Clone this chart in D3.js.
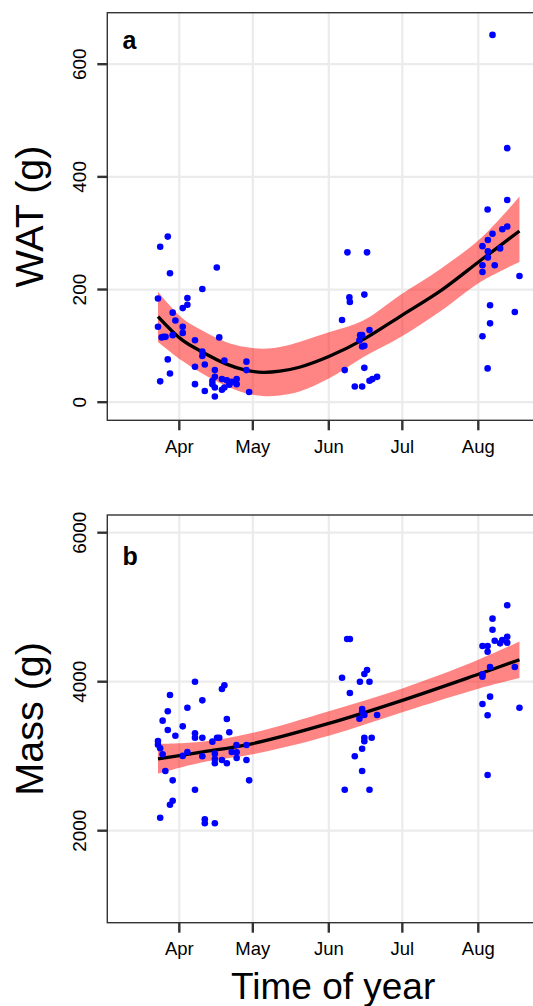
<!DOCTYPE html>
<html>
<head>
<meta charset="utf-8">
<title>WAT and mass by time of year</title>
<script src="https://cdn.jsdelivr.net/npm/d3@7/dist/d3.min.js"></script>
<style>
    body { margin: 0; background: #fff; }
    text { font-family: "Liberation Sans", Arial, Helvetica, sans-serif; fill: #000; }
</style>
</head>
<body>
<script>
// day of year (2019)
var watDay = [86.3, 83.2, 87.2, 106.3, 100.4, 82.3, 94.3, 94.3, 92.4, 88.3, 89.4, 82.3, 92.4, 92.4,
    84.5, 85.4, 83.8, 88.3, 107.3, 97.4, 100.4, 100.4, 109.4, 118.4, 86.3, 101.4, 97.4, 118.4,
    105.5, 87.2, 83.2, 105.5, 104.5, 108.4, 110.4, 112.4, 114.4, 114.4, 111.4, 109.4, 108.4,
    105.5, 104.5, 97.4, 101.4, 105.5, 119.5,
    159.6, 167.6, 160.4, 160.6, 166.5, 157.4, 168.6, 164.8, 165.6, 164.5, 165.6, 166.5, 158.5,
    166.5, 171.7, 169.8, 168.6, 162.6, 165.6,
    218.8, 224.8, 224.8, 216.8, 214.7, 216.9, 218.8, 222.8, 224.8, 216.9, 216.9, 221.9, 214.7,
    214.7, 219.7, 229.8, 217.8, 227.9, 217.8, 214.7, 216.8];
var watVal = [294, 276, 229, 239, 201, 184, 185, 173, 167, 159, 145, 134, 134, 123,
    116, 116, 115, 119, 115, 110, 90, 82, 74, 72, 76, 67, 63, 57,
    57, 51, 37, 45, 38, 41, 39, 36, 41, 32, 31, 26, 22,
    26, 32, 32, 20, 10, 18,
    266, 266, 186, 178, 191, 146, 128, 119, 119, 110, 99, 100, 57,
    61, 45, 41, 38, 28, 28,
    652, 451, 359, 342, 277, 288, 299, 307, 312, 268, 257, 273, 243,
    231, 243, 224, 172, 160, 140, 117, 60];

var massDay = [97.4, 109.4, 108.4, 87.2, 100.4, 94.3, 86.3, 84.2, 110.4, 92.4, 86.3, 89.4, 111.4,
    97.4, 97.4, 100.4, 106.4, 107.3, 104.5, 82.3, 82.3, 83.2, 84.2, 114.3, 118.4, 94.3, 92.4,
    100.4, 105.5, 105.5, 105.5, 112.4, 114.4, 114.4, 108.4, 110.4, 118.4, 85.3, 88.3, 119.5,
    97.4, 88.3, 87.2, 83.2, 101.4, 101.4, 105.5,
    159.5, 160.6, 167.6, 166.5, 157.4, 164.7, 168.6, 160.6, 165.6, 165.6, 166.5, 164.5, 171.7,
    166.5, 166.5, 169.5, 165.6, 162.6, 165.6, 158.5, 168.6,
    224.8, 218.8, 218.8, 219.7, 221.9, 222.8, 224.8, 224.8, 214.7, 216.8, 216.8, 217.8, 214.7,
    214.7, 227.9, 217.8, 214.7, 216.8, 229.8, 216.8];
var massVal = [4000, 3952, 3902, 3821, 3750, 3651, 3603, 3477, 3499, 3401, 3352, 3275, 3321,
    3307, 3248, 3248, 3248, 3248, 3195, 3204, 3154, 3106, 3025, 3150, 3150, 3057, 3004,
    2999, 3034, 2963, 2905, 3057, 3052, 2976, 2949, 2905, 2949, 2801, 2676, 2676,
    2550, 2403, 2349, 2174, 2153, 2099, 2099,
    4573, 4573, 4157, 4103, 4054, 4000, 4000, 3848, 3633, 3597, 3553, 3503, 3553,
    3248, 3200, 3248, 3101, 2999, 2801, 2550, 2550,
    5026, 4846, 4698, 4550, 4515, 4560, 4604, 4523, 4479, 4479, 4403, 4197, 4099,
    4067, 4197, 3799, 3701, 3549, 3651, 2748];

// smoother with confidence band
var fitDayA = [82.3, 92, 100, 110, 118, 125, 132, 140, 152, 166, 181, 198, 214, 229.8];
var fitA    = [152, 111, 90, 68, 57, 53, 55, 62, 81, 111, 152, 199, 252, 304];
var loA     = [107, 74, 52, 29, 16, 11, 12, 19, 42, 80, 115, 163, 214, 249];
var hiA     = [196, 150, 128, 107, 98, 95, 98, 107, 124, 145, 190, 238, 291, 365];

var fitDayB = [82.3, 100, 121, 152, 182, 213, 229.8];
var fitB    = [2965, 3055, 3170, 3440, 3750, 4100, 4295];
var loB     = [2765, 2915, 3025, 3275, 3590, 3905, 4050];
var hiB     = [3165, 3195, 3315, 3605, 3910, 4295, 4540];

var monthTicks = ["Apr", "May", "Jun", "Jul", "Aug"];
var yTicksA = [0, 200, 400, 600];
var yTicksB = [2000, 4000, 6000];

var W = 533, H = 1006;
var left = 107.3, right = 559;

function doyDate(d) {
    return new Date(new Date(2019, 0, 1).getTime() + (d - 1) * 864e5);
}
var monthDates = monthTicks.map(function(m, i) { return new Date(2019, 3 + i, 1); });

var x = d3.scaleTime()
        .domain([new Date(2019, 3, 1), new Date(2019, 7, 1)])
        .range([179.3, 478.3]);

var svg = d3.select("body").append("svg")
        .attr("width", W)
        .attr("height", H);

function panel(cfg) {
    var y = d3.scaleLinear().domain(cfg.yDomain).range(cfg.yRange);
    var g = svg.append("g");
    var clipId = "clip" + cfg.label;

    g.append("clipPath").attr("id", clipId)
        .append("rect")
        .attr("x", left).attr("y", cfg.top)
        .attr("width", right - left).attr("height", cfg.bottom - cfg.top);

    var inner = g.append("g").attr("clip-path", "url(#" + clipId + ")");

    // grid
    inner.selectAll(".gy").data(cfg.yTicks).enter().append("line")
        .attr("x1", left).attr("x2", right)
        .attr("y1", function(d) { return y(d); })
        .attr("y2", function(d) { return y(d); })
        .attr("stroke", "#ebebeb").attr("stroke-width", 2.2);
    inner.selectAll(".gx").data(monthDates).enter().append("line")
        .attr("x1", function(d) { return x(d); })
        .attr("x2", function(d) { return x(d); })
        .attr("y1", cfg.top).attr("y2", cfg.bottom)
        .attr("stroke", "#ebebeb").attr("stroke-width", 2.2);

    // confidence band
    var band = cfg.fitDay.map(function(d, i) {
        return { d: doyDate(d), fit: cfg.fit[i], lo: cfg.lo[i], hi: cfg.hi[i] };
    });
    inner.append("path").datum(band)
        .attr("d", d3.area()
            .curve(d3.curveCatmullRom)
            .x(function(d) { return x(d.d); })
            .y0(function(d) { return y(d.lo); })
            .y1(function(d) { return y(d.hi); }))
        .attr("fill", "#ff0000").attr("fill-opacity", 0.48);

    inner.append("path").datum(band)
        .attr("d", d3.line()
            .curve(d3.curveCatmullRom)
            .x(function(d) { return x(d.d); })
            .y(function(d) { return y(d.fit); }))
        .attr("fill", "none").attr("stroke", "#000").attr("stroke-width", 3.3);

    // points
    inner.selectAll("circle").data(cfg.days).enter().append("circle")
        .attr("cx", function(d) { return x(doyDate(d)); })
        .attr("cy", function(d, i) { return y(cfg.vals[i]); })
        .attr("r", 3.3)
        .attr("fill", "#0000ff");

    // border
    g.append("rect")
        .attr("x", left).attr("y", cfg.top)
        .attr("width", right - left).attr("height", cfg.bottom - cfg.top)
        .attr("fill", "none").attr("stroke", "#333").attr("stroke-width", 1.4);

    // y axis ticks
    g.selectAll(".ty").data(cfg.yTicks).enter().append("line")
        .attr("x1", left - 10).attr("x2", left)
        .attr("y1", function(d) { return y(d); })
        .attr("y2", function(d) { return y(d); })
        .attr("stroke", "#333").attr("stroke-width", 2.4);
    g.selectAll(".ly").data(cfg.yTicks).enter().append("text")
        .attr("transform", function(d) { return "translate(85.7," + y(d) + ") rotate(-90)"; })
        .attr("text-anchor", "middle")
        .attr("font-size", "19px")
        .attr("fill", "#111")
        .text(function(d) { return d; });

    // x axis ticks
    g.selectAll(".tx").data(monthDates).enter().append("line")
        .attr("x1", function(d) { return x(d); })
        .attr("x2", function(d) { return x(d); })
        .attr("y1", cfg.bottom).attr("y2", cfg.bottom + 10)
        .attr("stroke", "#333").attr("stroke-width", 2.4);
    g.selectAll(".lx").data(monthDates).enter().append("text")
        .attr("x", function(d) { return x(d); })
        .attr("y", cfg.bottom + 32.5)
        .attr("text-anchor", "middle")
        .attr("font-size", "18.5px")
        .attr("fill", "#111")
        .text(function(d, i) { return monthTicks[i]; });

    // y title
    g.append("text")
        .attr("transform", "translate(43," + (cfg.top + cfg.bottom) / 2 + ") rotate(-90)")
        .attr("text-anchor", "middle")
        .attr("font-size", "39.5px")
        .text(cfg.title);

    // panel letter
    g.append("text")
        .attr("x", 122.5).attr("y", cfg.labelY)
        .attr("font-size", "25px")
        .attr("font-weight", "bold")
        .text(cfg.label);
}

panel({
    label: "a", labelY: 49.3, title: "WAT (g)",
    top: 12.7, bottom: 420.3,
    yDomain: [0, 600], yRange: [402.2, 64.2], yTicks: yTicksA,
    days: watDay, vals: watVal,
    fitDay: fitDayA, fit: fitA, lo: loA, hi: hiA
});

panel({
    label: "b", labelY: 565, title: "Mass (g)",
    top: 515, bottom: 922.7,
    yDomain: [2000, 6000], yRange: [830.7, 532.7], yTicks: yTicksB,
    days: massDay, vals: massVal,
    fitDay: fitDayB, fit: fitB, lo: loB, hi: hiB
});

svg.append("text")
    .attr("x", (left + right) / 2)
    .attr("y", 999)
    .attr("text-anchor", "middle")
    .attr("font-size", "37px")
    .text("Time of year");
</script>
</body>
</html>
